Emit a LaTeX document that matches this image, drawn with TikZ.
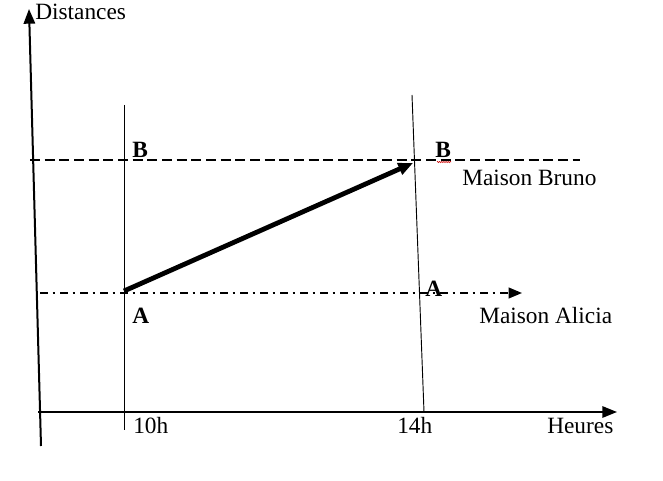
\documentclass[tikz,border=0pt]{standalone}
\usepackage{fontspec}
\setmainfont{Liberation Serif}
\usetikzlibrary{arrows.meta,decorations.pathmorphing}
\begin{document}
\begin{tikzpicture}[x=0.75pt,y=-0.75pt,
  axis/.style={line width=1.5pt,-{Triangle[length=11pt,width=8.5pt]}},
  thin/.style={line width=0.7pt},
  lbl/.style={anchor=base west,inner sep=0pt,font=\fontsize{17.5}{20}\selectfont},
  pt/.style={lbl,font=\fontsize{17.5}{20}\selectfont\bfseries},
  dashline/.style={line width=1.5pt,dash pattern=on 7.5pt off 3.5pt},
  dashdot/.style={line width=1.5pt,dash pattern=on 6pt off 3.5pt on 2pt off 3.5pt,-{Triangle[length=10pt,width=8pt]}},
  motion/.style={line width=3.6pt,-{Triangle[length=11pt,width=9pt]}}]
\useasboundingbox (0,0) rectangle (663,481);
% coordinates
\coordinate (ybot) at (41,446);
\coordinate (ytop) at (29,9);
\coordinate (xl) at (38,412);
\coordinate (xr) at (617,412);
\coordinate (v1t) at (124,105);
\coordinate (v1b) at (124,430);
\coordinate (v2t) at (412,95);
\coordinate (v2b) at (424,412);
\coordinate (dbl) at (30,160);
\coordinate (dbr) at (580,160);
\coordinate (dal) at (40,293);
\coordinate (dar) at (522,293);
\coordinate (mA) at (124,291);
\coordinate (mB) at (413,163);
% axes
\draw[axis] (ybot) -- (ytop);
\draw[axis] (xl) -- (xr);
% verticals
\draw[thin] (v1t) -- (v1b);
\draw[thin] (v2t) -- (v2b);
% horizontal reference lines
\draw[dashline] (dbl) -- (dbr);
\draw[dashdot] (dal) -- (dar);
% motion arrow
\draw[motion] (mA) -- (mB);
% labels
\node[lbl] (dist) at (35,20) {Distances};
\node[pt] (b1) at (132,157) {B};
\node[pt] (b2) at (435,157) {B};
\node[lbl] (mb) at (462,185) {Maison Bruno};
\node[pt] (a1) at (132,323) {A};
\node[pt] (a2) at (425,296) {A};
\node[lbl] (ma) at (479,323) {Maison Alicia};
\node[lbl] (h10) at (133,433) {10h};
\node[lbl] (h14) at (397,433) {14h};
\node[lbl] (heures) at (547,433) {Heures};
\coordinate (sq1) at (437,162);
\coordinate (sq2) at (451,162);
\draw[red!80!black,line width=0.4pt,decorate,decoration={zigzag,segment length=1.6pt,amplitude=0.5pt}] (sq1) -- (sq2);
\end{tikzpicture}
\end{document}
